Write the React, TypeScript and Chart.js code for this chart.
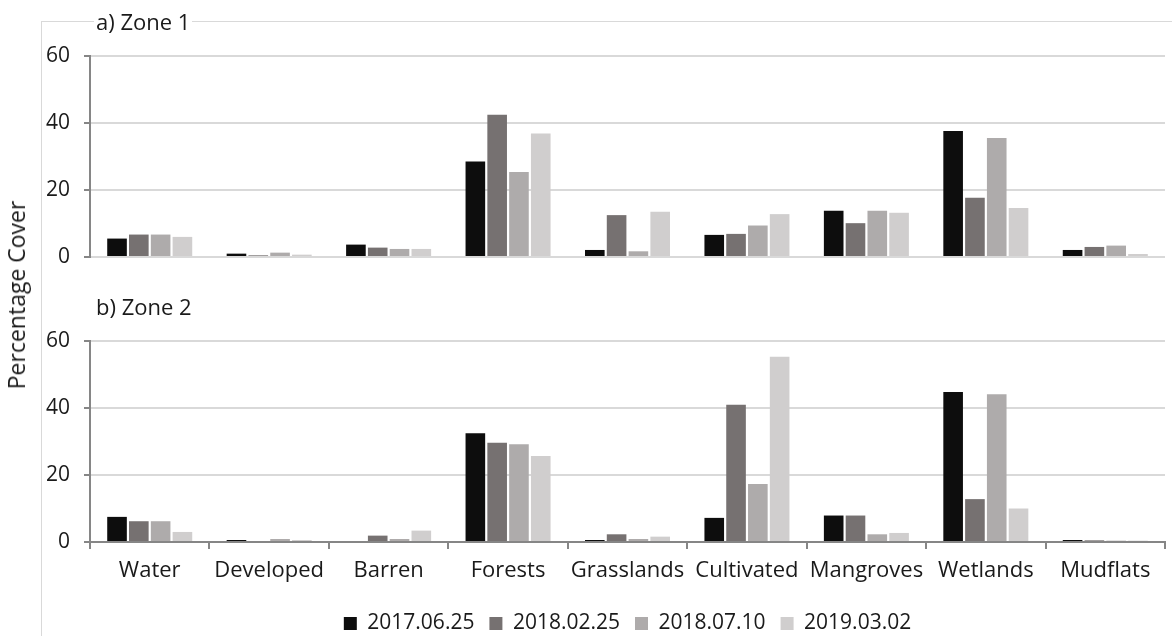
import React, { useEffect, useRef } from "react";
import { Chart, registerables } from "chart.js";
Chart.register(...registerables);

const categories = ["Water", "Developed", "Barren", "Forests", "Grasslands", "Cultivated", "Mangroves", "Wetlands", "Mudflats"];
const seriesLabels = ["2017.06.25", "2018.02.25", "2018.07.10", "2019.03.02"];
const seriesColors = ["#0d0d0d", "#767171", "#aeabab", "#d0cece"];

const zone1_20170625 = [5.5, 1.0, 3.7, 28.5, 2.1, 6.6, 13.8, 37.6, 2.1];
const zone1_20180225 = [6.7, 0.5, 2.8, 42.5, 12.5, 6.9, 10.1, 17.7, 3.0];
const zone1_20180710 = [6.7, 1.3, 2.4, 25.4, 1.7, 9.4, 13.8, 35.5, 3.4];
const zone1_20190302 = [6.0, 0.7, 2.4, 36.9, 13.5, 12.8, 13.2, 14.6, 0.9];

const zone2_20170625 = [7.5, 0.6, 0, 32.5, 0.6, 7.2, 7.9, 44.8, 0.6];
const zone2_20180225 = [6.2, 0, 1.9, 29.6, 2.3, 41.0, 7.9, 12.8, 0.5];
const zone2_20180710 = [6.2, 0.9, 0.9, 29.2, 0.9, 17.3, 2.3, 44.1, 0.4];
const zone2_20190302 = [3.0, 0.6, 3.4, 25.7, 1.6, 55.3, 2.7, 10.0, 0.4];

const yTicks = [0, 20, 40, 60];
const panelTitles = ["a) Zone 1", "b) Zone 2"];
const yAxisTitle = "Percentage Cover";

const FONT = "'Open Sans', sans-serif";
const TEXT = "#1a1a1a";

function makeDatasets(series: number[][]) {
  return series.map((data, i) => ({
    label: seriesLabels[i],
    data,
    backgroundColor: seriesColors[i],
    borderColor: seriesColors[i],
    borderWidth: 0,
    barPercentage: 0.9,
    categoryPercentage: 0.73,
  }));
}

function makeConfig(series: number[][], bottom: boolean, padTop: number): any {
  return {
    type: "bar",
    data: { labels: categories, datasets: makeDatasets(series) },
    options: {
      responsive: false,
      animation: false,
      events: [],
      layout: { padding: { top: padTop, left: 0, right: 7, bottom: 0 } },
      plugins: {
        tooltip: { enabled: false },
        title: { display: false },
        legend: bottom
          ? {
              display: true,
              position: "bottom",
              fullSize: false,
              align: "center",
              labels: {
                boxWidth: 13,
                boxHeight: 13,
                padding: 15,
                color: TEXT,
                font: { family: FONT, size: 21 },
              },
            }
          : { display: false },
      },
      scales: {
        x: bottom
          ? {
              ticks: { color: TEXT, font: { family: FONT, size: 22 }, padding: 9, maxRotation: 0, autoSkip: false },
              grid: { drawOnChartArea: false, color: "#868686", lineWidth: 2, tickLength: 7 },
              border: { display: true, color: "#868686", width: 2 },
              afterFit: (s: any) => { s.height = 56; },
            }
          : {
              ticks: { display: false },
              grid: { display: false },
              border: { display: false },
              afterFit: (s: any) => { s.height = 33; },
            },
        y: {
          min: 0,
          max: 60,
          afterBuildTicks: (s: any) => { s.ticks = yTicks.map((v) => ({ value: v })); },
          ticks: { color: TEXT, font: { family: FONT, size: 21 }, padding: 14 },
          grid: { color: "#d9d9d9", lineWidth: 2, tickColor: "#868686", tickLength: 6, tickWidth: 2 },
          border: { display: true, color: "#868686", width: 2 },
          afterFit: (s: any) => { s.width = 90; },
        },
      },
    },
  };
}

export default function App() {
  const ref1 = useRef<HTMLCanvasElement>(null);
  const ref2 = useRef<HTMLCanvasElement>(null);

  useEffect(() => {
    document.body.style.margin = "0";
    document.body.style.overflow = "hidden";
    const c1 = new Chart(ref1.current!, makeConfig([zone1_20170625, zone1_20180225, zone1_20180710, zone1_20190302], false, 56));
    const c2 = new Chart(ref2.current!, makeConfig([zone2_20170625, zone2_20180225, zone2_20180710, zone2_20190302], true, 51));
    return () => {
      c1.destroy();
      c2.destroy();
    };
  }, []);

  const titleStyle: React.CSSProperties = {
    position: "absolute",
    fontFamily: FONT,
    fontSize: 22,
    lineHeight: "26px",
    color: TEXT,
    background: "#fff",
    padding: "0 2px",
    whiteSpace: "nowrap",
  };

  return (
    <div style={{ position: "relative", width: 1172, height: 636, overflow: "hidden", background: "#fff" }}>
      <div
        style={{
          position: "absolute",
          left: 41,
          top: 21,
          width: 1200,
          height: 700,
          borderLeft: "1px solid #d9d9d9",
          borderTop: "1px solid #d9d9d9",
        }}
      />
      <canvas ref={ref1} width={1172} height={290} style={{ position: "absolute", left: 0, top: 0, display: "block" }} />
      <canvas ref={ref2} width={1172} height={354} style={{ position: "absolute", left: 0, top: 290, display: "block" }} />
      <div style={{ ...titleStyle, left: 94, top: 8 }}>{panelTitles[0]}</div>
      <div style={{ ...titleStyle, left: 94, top: 293 }}>{panelTitles[1]}</div>
      <div
        style={{
          position: "absolute",
          left: 16,
          top: 295,
          transform: "translate(-50%, -50%) rotate(-90deg)",
          fontFamily: FONT,
          fontSize: 23,
          color: TEXT,
          whiteSpace: "nowrap",
        }}
      >
        {yAxisTitle}
      </div>
    </div>
  );
}
